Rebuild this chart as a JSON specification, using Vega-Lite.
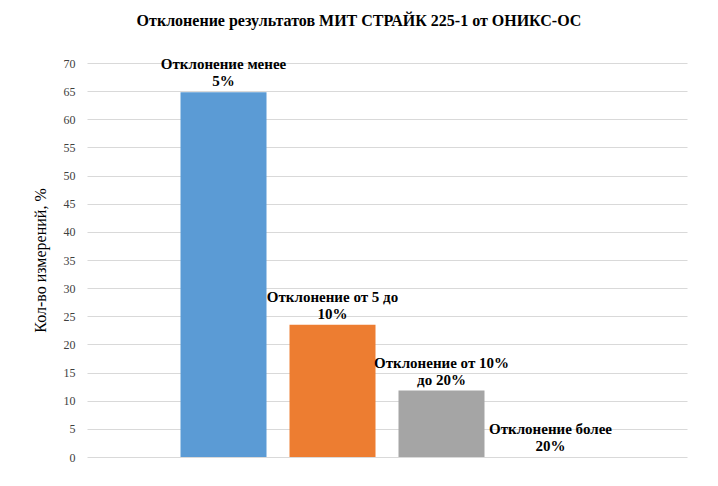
{
  "$schema": "https://vega.github.io/schema/vega-lite/v6.json",
  "width": 600,
  "height": 394,
  "autosize": "none",
  "padding": {"left": 87, "top": 63, "right": 31, "bottom": 29},
  "background": "white",
  "title": {
    "text": "Отклонение результатов МИТ СТРАЙК 225-1 от ОНИКС-ОС",
    "font": "'Liberation Serif', 'Times New Roman', serif",
    "fontSize": 16,
    "fontWeight": "bold",
    "color": "#000000",
    "anchor": "middle",
    "dx": -28,
    "offset": 28
  },
  "data": {
    "values": [
      {"cat": "менее 5%", "value": 64.8, "label": "Отклонение менее\n5%"},
      {"cat": "от 5 до 10%", "value": 23.5, "label": "Отклонение от 5 до\n10%"},
      {"cat": "от 10% до 20%", "value": 11.8, "label": "Отклонение от 10%\nдо 20%"},
      {"cat": "более 20%", "value": 0, "label": "Отклонение более\n20%"}
    ]
  },
  "encoding": {
    "x": {
      "field": "cat",
      "type": "nominal",
      "sort": null,
      "scale": {"paddingInner": 0.211, "paddingOuter": 0.858},
      "axis": null
    },
    "y": {
      "field": "value",
      "type": "quantitative",
      "scale": {"domain": [0, 70]},
      "axis": {
        "values": [0, 5, 10, 15, 20, 25, 30, 35, 40, 45, 50, 55, 60, 65, 70],
        "title": "Кол-во измерений, %",
        "titleFont": "'Liberation Serif', 'Times New Roman', serif",
        "titleFontSize": 16,
        "titleFontWeight": "normal",
        "titleColor": "#000000",
        "titleAngle": -90,
        "titleX": -47,
        "titleY": 197,
        "titleAlign": "center",
        "titleBaseline": "middle",
        "labelFont": "'Liberation Serif', 'Times New Roman', serif",
        "labelFontSize": 12,
        "labelColor": "#404040",
        "labelPadding": 12,
        "domain": false,
        "ticks": false,
        "grid": true,
        "gridColor": "#d9d9d9",
        "gridWidth": 1
      }
    }
  },
  "layer": [
    {
      "mark": {"type": "bar"},
      "encoding": {
        "color": {
          "field": "cat",
          "type": "nominal",
          "sort": null,
          "scale": {"range": ["#5b9bd5", "#ed7d31", "#a5a5a5", "#ffc000"]},
          "legend": null
        }
      }
    },
    {
      "mark": {
        "type": "text",
        "font": "'Liberation Serif', 'Times New Roman', serif",
        "fontSize": 15,
        "fontWeight": "bold",
        "color": "#000000",
        "baseline": "bottom",
        "align": "center",
        "lineBreak": "\n",
        "lineHeight": 17,
        "dy": -20
      },
      "encoding": {
        "text": {"field": "label"}
      }
    }
  ],
  "config": {
    "view": {"stroke": null}
  }
}
